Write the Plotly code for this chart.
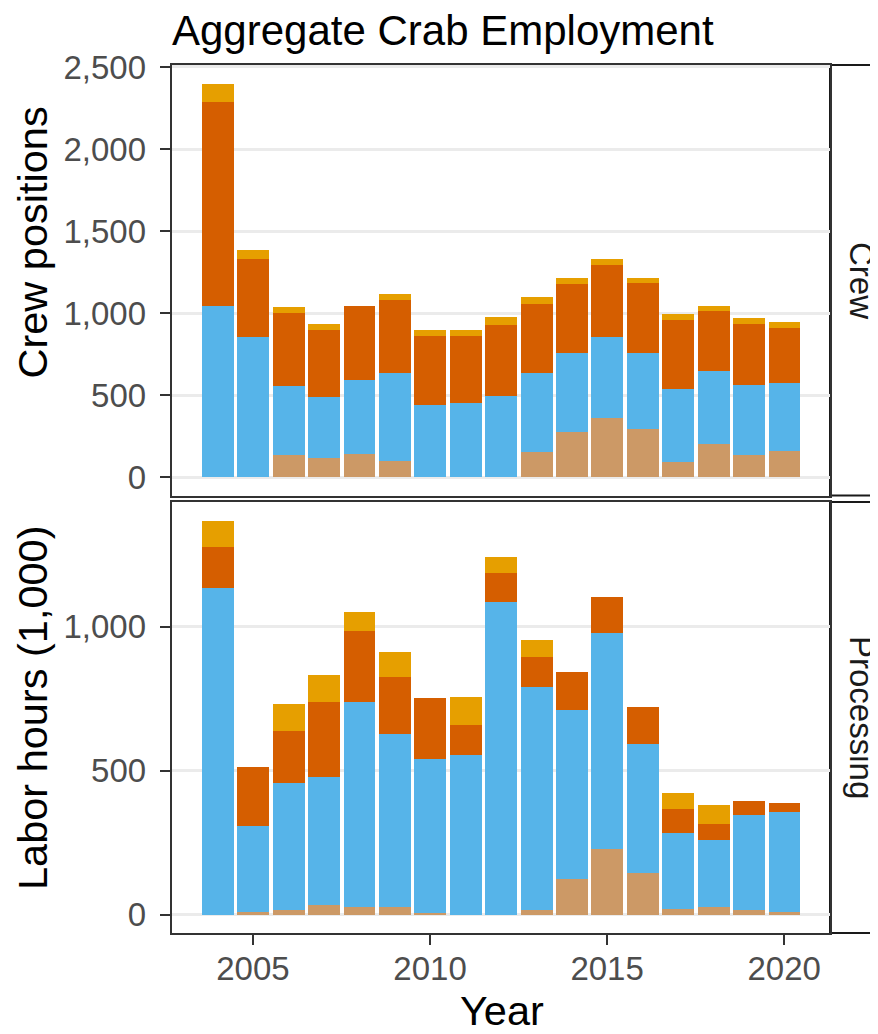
import plotly.graph_objects as go

years = list(range(2004, 2021))

crew_tan = [0, 0, 138, 116, 142, 98, 0, 0, 0, 154, 278, 364, 293, 96, 205, 138, 161]
crew_blue = [1047, 856, 419, 374, 449, 536, 439, 451, 498, 480, 480, 492, 465, 441, 441, 427, 414]
crew_verm = [1240, 473, 445, 408, 452, 447, 425, 413, 431, 421, 421, 439, 425, 422, 366, 370, 336]
crew_orange = [109, 59, 35, 39, 0, 35, 36, 36, 47, 43, 34, 34, 34, 37, 35, 37, 34]

proc_tan = [0, 8, 15, 34, 25, 28, 6, 0, 0, 17, 122, 228, 145, 20, 28, 15, 8]
proc_blue = [1134, 301, 443, 443, 713, 599, 533, 554, 1086, 773, 590, 749, 446, 265, 232, 332, 350]
proc_verm = [141, 204, 181, 263, 246, 199, 212, 105, 101, 106, 129, 126, 129, 82, 56, 47, 30]
proc_orange = [93, 0, 92, 92, 68, 86, 0, 97, 54, 59, 0, 0, 0, 57, 64, 0, 0]

series_names = ["Group 1", "Group 2", "Group 3", "Group 4"]
colors = ["#CC9966", "#56B4E9", "#D55E00", "#E69F00"]

crew_ticks = [0, 500, 1000, 1500, 2000, 2500]
crew_ticktext = ["0", "500", "1,000", "1,500", "2,000", "2,500"]
proc_ticks = [0, 500, 1000]
proc_ticktext = ["0", "500", "1,000"]
x_ticks = [2005, 2010, 2015, 2020]

W, H = 878, 1034
OFF = 8  # page body margin
FONT = "Liberation Sans, Arial, Helvetica, sans-serif"

def px_x(p):
    return (p - OFF) / W

def px_y(p):
    return 1 - (p - OFF) / H

fig = go.Figure()

for vals, name, col in zip([crew_tan, crew_blue, crew_verm, crew_orange], series_names, colors):
    fig.add_trace(go.Bar(x=years, y=vals, name=name, marker=dict(color=col, line=dict(width=0)),
                         width=0.9, xaxis="x", yaxis="y", showlegend=False))
for vals, name, col in zip([proc_tan, proc_blue, proc_verm, proc_orange], series_names, colors):
    fig.add_trace(go.Bar(x=years, y=vals, name=name, marker=dict(color=col, line=dict(width=0)),
                         width=0.9, xaxis="x2", yaxis="y2", showlegend=False))

xdom = [px_x(171.7), px_x(830)]
top_dom = [px_y(495.5), px_y(65)]
bot_dom = [px_y(933), px_y(502)]

axis_common = dict(showline=True, linecolor="#333333", linewidth=2, mirror=True, automargin=False,
                   zeroline=False, ticks="outside", ticklen=10, tickwidth=2, tickcolor="#333333",
                   tickfont=dict(family=FONT, size=33, color="#4D4D4D"))

fig.update_layout(
    width=W, height=H, barmode="stack", bargap=0,
    paper_bgcolor="white", plot_bgcolor="white",
    margin=dict(l=0, r=0, t=0, b=0, autoexpand=False),
    xaxis=dict(domain=xdom, anchor="y", range=[2002.705, 2021.295], showgrid=False,
               tickvals=x_ticks, showticklabels=False,
               **{k: v for k, v in axis_common.items() if k != "ticks"}, ticks=""),
    yaxis=dict(domain=top_dom, anchor="x", range=[-110, 2512], tickvals=crew_ticks, ticktext=crew_ticktext,
               showgrid=True, gridcolor="#EBEBEB", gridwidth=2.5, ticklabelstandoff=7, **axis_common),
    xaxis2=dict(domain=xdom, anchor="y2", matches="x", range=[2002.705, 2021.295], showgrid=False,
                tickvals=x_ticks, ticktext=[str(v) for v in x_ticks], ticklabelstandoff=-5, **axis_common),
    yaxis2=dict(domain=bot_dom, anchor="x2", range=[-64, 1433], tickvals=proc_ticks, ticktext=proc_ticktext,
                showgrid=True, gridcolor="#EBEBEB", gridwidth=2.5, ticklabelstandoff=7, **axis_common),
)

# facet strips
for y0, y1 in [(65, 495.5), (502, 933)]:
    fig.add_shape(type="rect", xref="paper", yref="paper", x0=px_x(830), x1=px_x(900),
                  y0=px_y(y1), y1=px_y(y0), line=dict(color="#1A1A1A", width=2), fillcolor="white", layer="below")

annos = [
    dict(text="Aggregate Crab Employment", x=px_x(170), y=px_y(30), xanchor="left", yanchor="middle",
         font=dict(family=FONT, size=42, color="black")),
    dict(text="Year", x=px_x(502), y=px_y(1010), xanchor="center", yanchor="middle",
         font=dict(family=FONT, size=41.5, color="black")),
    dict(text="Crew positions", x=px_x(32), y=px_y(242.5), xanchor="center", yanchor="middle", textangle=-90,
         font=dict(family=FONT, size=41.5, color="black")),
    dict(text="Labor hours (1,000)", x=px_x(32), y=px_y(708), xanchor="center", yanchor="middle", textangle=-90,
         font=dict(family=FONT, size=41.5, color="black")),
    dict(text="Crew", x=px_x(862), y=px_y(280), xanchor="center", yanchor="middle", textangle=90,
         font=dict(family=FONT, size=33, color="#1A1A1A")),
    dict(text="Processing", x=px_x(862), y=px_y(717), xanchor="center", yanchor="middle", textangle=90,
         font=dict(family=FONT, size=33, color="#1A1A1A")),
]
for a in annos:
    fig.add_annotation(xref="paper", yref="paper", showarrow=False, **a)

fig.write_html("out.html")
